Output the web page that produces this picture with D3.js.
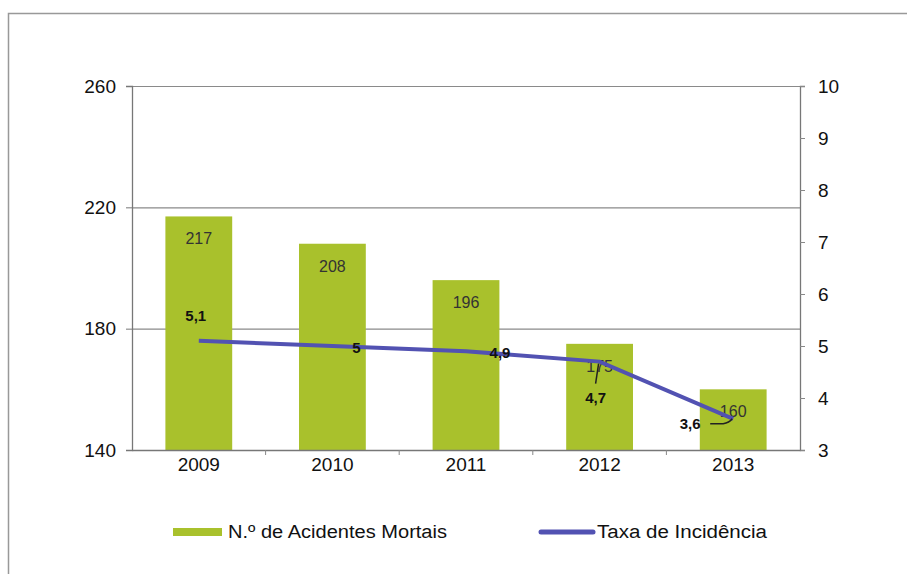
<!DOCTYPE html>
<html lang="pt">
<head>
<meta charset="UTF-8">
<title>Acidentes Mortais</title>
<style>
  body { margin: 0; background: #fff; }
  text { font-family: Arial, "Liberation Sans", sans-serif; fill: #111; }
</style>
</head>
<body>
<svg id="chart" width="907" height="574"></svg>
<script src="https://cdn.jsdelivr.net/npm/d3@7"></script>
<script>
// data
var years = ["2009", "2010", "2011", "2012", "2013"];
var mortais = [217, 208, 196, 175, 160];
var taxa = [5.1, 5, 4.9, 4.7, 3.6];
var taxaLabels = ["5,1", "5", "4,9", "4,7", "3,6"];
var leftTicks = [140, 180, 220, 260];
var rightTicks = [3, 4, 5, 6, 7, 8, 9, 10];

var svg = d3.select("#chart");
var mLeft = 132, mRight = 800, mTop = 86, mBottom = 450;
var font = "Arial, 'Liberation Sans', sans-serif";

// outer frame (left + top only)
svg.append("path")
  .attr("d", "M8.5,574 V13.5 H907")
  .attr("fill", "none").attr("stroke", "#999").attr("stroke-width", 1.5);

var x = d3.scaleBand().domain(years).range([mLeft, mRight]).paddingInner(0.5).paddingOuter(0.25);
var y = d3.scaleLinear().domain([140, 260]).range([mBottom, mTop]);
var y2 = d3.scaleLinear().domain([3, 10]).range([mBottom, mTop]);

// gridlines
svg.append("g").selectAll("line").data(leftTicks.slice(1)).enter().append("line")
  .attr("x1", mLeft).attr("x2", mRight)
  .attr("y1", function(d){ return y(d) + 0.5; }).attr("y2", function(d){ return y(d) + 0.5; })
  .attr("stroke", "#8a8a8a").attr("stroke-width", 1.2);

// bars
svg.append("g").selectAll("rect").data(mortais).enter().append("rect")
  .attr("x", function(d, i){ return x(years[i]); })
  .attr("width", x.bandwidth())
  .attr("y", function(d){ return y(d); })
  .attr("height", function(d){ return mBottom - y(d); })
  .attr("fill", "#a9c12c");

// bar labels
svg.append("g").selectAll("text").data(mortais).enter().append("text")
  .attr("x", function(d, i){ return x(years[i]) + x.bandwidth() / 2; })
  .attr("y", function(d){ return y(d) + 28; })
  .attr("text-anchor", "middle").attr("font-size", 16).style("fill", "#333")
  .text(function(d){ return d; });

// left axis
var yAxis = d3.axisLeft(y).tickValues(leftTicks).tickSize(6).tickPadding(10);
var gl = svg.append("g").attr("transform", "translate(" + mLeft + ",0)").call(yAxis);
gl.select(".domain").attr("stroke", "#777").attr("stroke-width", 1.3);
gl.selectAll(".tick line").attr("stroke", "#777");
gl.selectAll(".tick text").attr("font-size", 19).style("fill", "#111").style("font-family", font);

// right axis
var y2Axis = d3.axisRight(y2).tickValues(rightTicks).tickSize(5).tickPadding(13).tickFormat(d3.format("d"));
var gr = svg.append("g").attr("transform", "translate(" + mRight + ",0)").call(y2Axis);
gr.select(".domain").attr("stroke", "#777").attr("stroke-width", 1.3);
gr.selectAll(".tick line").attr("stroke", "#888");
gr.selectAll(".tick text").attr("font-size", 19).style("fill", "#111").style("font-family", font);

// bottom axis
var xAxis = d3.axisBottom(x).tickSize(0).tickPadding(8);
var gb = svg.append("g").attr("transform", "translate(0," + mBottom + ")").call(xAxis);
gb.select(".domain").attr("stroke", "#777").attr("stroke-width", 1.3);
gb.selectAll(".tick text").attr("font-size", 19).style("fill", "#111").style("font-family", font);
// category separators
gb.selectAll(".sep").data(d3.range(1, years.length)).enter().append("line")
  .attr("x1", function(d){ return mLeft + d * (mRight - mLeft) / years.length; })
  .attr("x2", function(d){ return mLeft + d * (mRight - mLeft) / years.length; })
  .attr("y1", 0).attr("y2", 5).attr("stroke", "#888");

// line
var cx = function(i){ return x(years[i]) + x.bandwidth() / 2; };
var line = d3.line().x(function(d, i){ return cx(i); }).y(function(d){ return y2(d); });
svg.append("path").datum(taxa).attr("d", line)
  .attr("fill", "none").attr("stroke", "#5252b2").attr("stroke-width", 4);

// line label offsets
var lblOff = [[-3, -20], [24, 7], [34, 7], [-4, 41], [-43, 10]];
svg.append("g").selectAll("text").data(taxa).enter().append("text")
  .attr("x", function(d, i){ return cx(i) + lblOff[i][0]; })
  .attr("y", function(d, i){ return y2(d) + lblOff[i][1]; })
  .attr("text-anchor", "middle").attr("font-size", 15).attr("font-weight", "bold")
  .text(function(d, i){ return taxaLabels[i]; });

// leader lines
var p3 = [cx(3), y2(taxa[3])], p4 = [cx(4), y2(taxa[4])];
svg.append("path")
  .attr("d", "M" + (p3[0] - 4) + "," + (p3[1] + 22) + " L" + (p3[0] - 1) + "," + (p3[1] + 2))
  .attr("fill", "none").attr("stroke", "#222").attr("stroke-width", 1.5);
svg.append("path")
  .attr("d", "M" + (p4[0] - 23) + "," + (p4[1] + 5) + " L" + (p4[0] - 10) + "," + (p4[1] + 5) + " Q" + (p4[0] - 4) + "," + (p4[1] + 4) + " " + (p4[0] - 1) + "," + (p4[1]))
  .attr("fill", "none").attr("stroke", "#222").attr("stroke-width", 1.5);

// legend
var lg = svg.append("g");
lg.append("rect").attr("x", 173).attr("y", 528).attr("width", 49).attr("height", 8).attr("fill", "#a9c12c");
lg.append("text").attr("x", 228).attr("y", 538).attr("font-size", 18)
  .attr("textLength", 219).attr("lengthAdjust", "spacingAndGlyphs").text("N.º de Acidentes Mortais");
lg.append("line").attr("x1", 541).attr("x2", 593).attr("y1", 532).attr("y2", 532)
  .attr("stroke", "#5252b2").attr("stroke-width", 5).attr("stroke-linecap", "round");
lg.append("text").attr("x", 597).attr("y", 538).attr("font-size", 18)
  .attr("textLength", 170).attr("lengthAdjust", "spacingAndGlyphs").text("Taxa de Incidência");
</script>
</body>
</html>
